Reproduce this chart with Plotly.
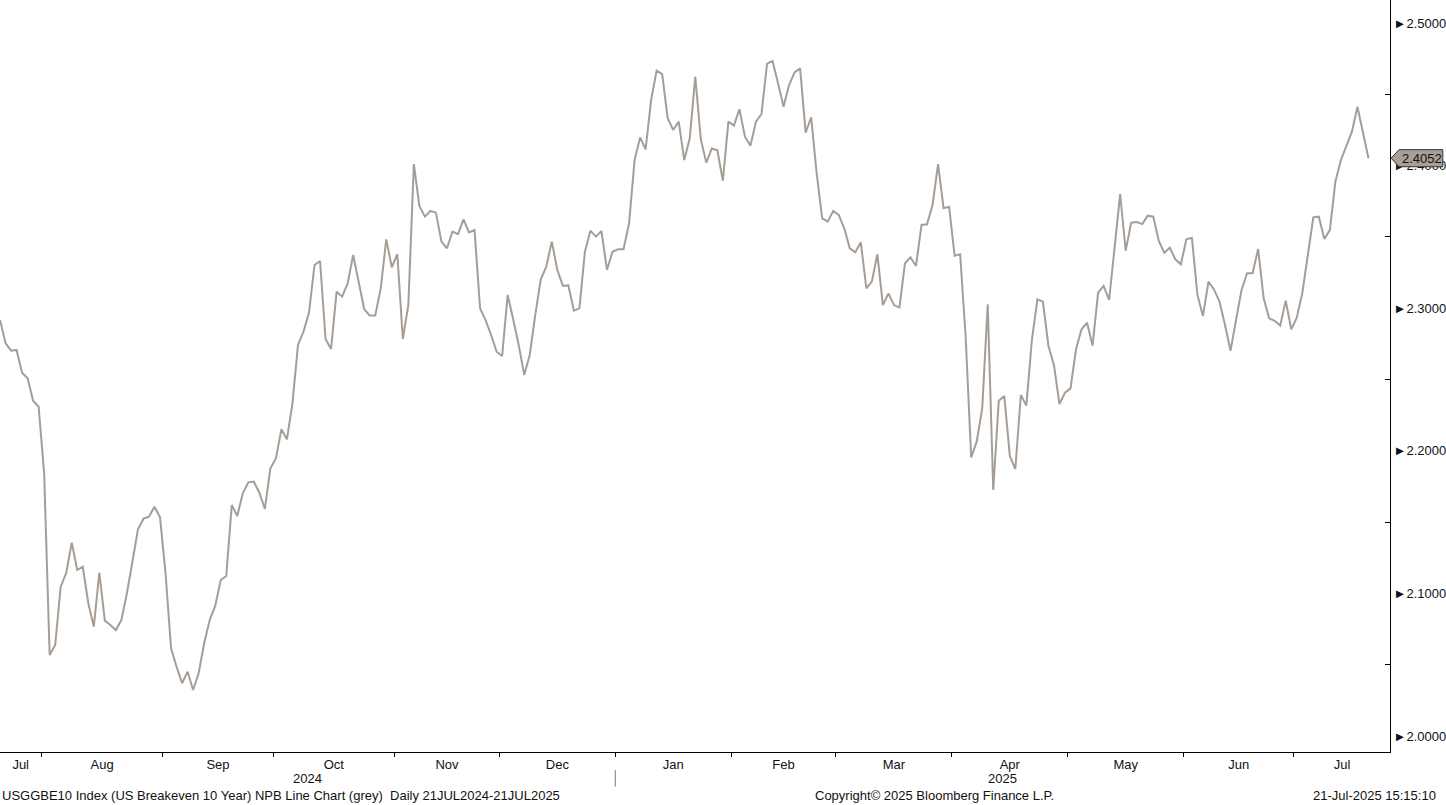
import plotly.graph_objects as go
import pandas as pd

# ---------------- data ----------------
holidays = ["2024-09-02", "2024-10-14", "2024-11-11", "2024-11-28", "2024-12-25",
            "2025-01-01", "2025-01-20", "2025-02-17", "2025-04-18", "2025-05-26",
            "2025-06-19", "2025-07-04"]

vals_jul_sep24 = [2.2917, 2.2756, 2.2702, 2.2707, 2.2548, 2.2508, 2.2351, 2.2309, 2.1844, 2.0568,
                  2.0638, 2.1047, 2.1143, 2.1356, 2.1164, 2.1187, 2.0931, 2.0767, 2.1145, 2.0809,
                  2.0778, 2.0743, 2.0813, 2.1001, 2.1222, 2.1449, 2.1524, 2.1538, 2.1608, 2.1534,
                  2.1141, 2.0615, 2.0486, 2.0370, 2.0451, 2.0323, 2.0440, 2.0650, 2.0813, 2.0912,
                  2.1094, 2.1122, 2.1620, 2.1543]
vals_sep_nov24 = [2.1702, 2.1779, 2.1784, 2.1706, 2.1592, 2.1877, 2.1947, 2.2151, 2.2081, 2.2333,
                  2.2742, 2.2835, 2.2969, 2.3303, 2.3331, 2.2782, 2.2714, 2.3116, 2.3081, 2.3174,
                  2.3373, 2.3186, 2.2994, 2.2948, 2.2948, 2.3139, 2.3483, 2.3287, 2.3380, 2.2784,
                  2.3022, 2.4011, 2.3717, 2.3642, 2.3682, 2.3670, 2.3467, 2.3420, 2.3537, 2.3520,
                  2.3623, 2.3532, 2.3548]
vals_nov24_jan25 = [2.2999, 2.2917, 2.2812, 2.2695, 2.2665, 2.3093, 2.2922, 2.2742, 2.2532, 2.2672,
                    2.2952, 2.3203, 2.3291, 2.3467, 2.3268, 2.3158, 2.3160, 2.2983, 2.2999, 2.3396,
                    2.3544, 2.3502, 2.3541, 2.3268, 2.3396, 2.3413, 2.3413, 2.3595, 2.4039, 2.4198,
                    2.4114, 2.4460, 2.4666, 2.4641, 2.4332, 2.4250, 2.4308, 2.4039, 2.4191, 2.4624,
                    2.4184, 2.4021, 2.4120, 2.4108]
vals_feb_mar25 = [2.3894, 2.4308, 2.4280, 2.4395, 2.4203, 2.4140, 2.4308, 2.4362, 2.4713, 2.4734,
                  2.4577, 2.4413, 2.4565, 2.4654, 2.4682, 2.4231, 2.4339, 2.3946, 2.3630, 2.3607,
                  2.3682, 2.3654, 2.3560, 2.3420, 2.3392, 2.3462, 2.3139, 2.3186, 2.3378, 2.3022,
                  2.3104, 2.3022, 2.3004, 2.3315, 2.3357, 2.3296, 2.3584, 2.3588, 2.3724, 2.4011,
                  2.3701, 2.3712, 2.3368, 2.3378]
vals_apr_may25 = [2.2800, 2.1954, 2.2064, 2.2298, 2.3027, 2.1725, 2.2351, 2.2384, 2.1964, 2.1872,
                  2.2391, 2.2317, 2.2777, 2.3062, 2.3046, 2.2735, 2.2602, 2.2328, 2.2408, 2.2438,
                  2.2712, 2.2852, 2.2898, 2.2737, 2.3109, 2.3156, 2.3058, 2.3431, 2.3801, 2.3403,
                  2.3600, 2.3604, 2.3590, 2.3649, 2.3642, 2.3471, 2.3389, 2.3424, 2.3343, 2.3308,
                  2.3483, 2.3494]
vals_jun_jul25 = [2.3093, 2.2945, 2.3186, 2.3132, 2.3046, 2.2882, 2.2702, 2.2917, 2.3128, 2.3245,
                  2.3245, 2.3415, 2.3069, 2.2929, 2.2912, 2.2878, 2.3053, 2.2852, 2.2934, 2.3104,
                  2.3385, 2.3637, 2.3642, 2.3485, 2.3548, 2.3887, 2.4039, 2.4137, 2.4238, 2.4413,
                  2.4226, 2.4052]

y_tick_vals = [2.0, 2.1, 2.2, 2.3, 2.4, 2.5]
y_minor_vals = [2.05, 2.15, 2.25, 2.35, 2.45]

title_left = "USGGBE10 Index (US Breakeven 10 Year) NPB Line Chart (grey)\u00a0\u00a0Daily 21JUL2024-21JUL2025"
title_mid = "Copyright\u00a9 2025 Bloomberg Finance L.P."
title_right = "21-Jul-2025 15:15:10"

# ---------------- build ----------------
values = (vals_jul_sep24 + vals_sep_nov24 + vals_nov24_jan25 +
          vals_feb_mar25 + vals_apr_may25 + vals_jun_jul25)
dates = [d for d in pd.bdate_range("2024-07-22", "2025-07-21")
         if d.strftime("%Y-%m-%d") not in holidays]
assert len(dates) == len(values), (len(dates), len(values))

n = len(values)
xs = list(range(n))
x_pad = 3.9
xmax = n - 1 + x_pad

# month ticks / labels
months = {}
for i, d in enumerate(dates):
    months.setdefault((d.year, d.month), []).append(i)
month_keys = list(months.keys())
tick_pos, label_pos, label_txt = [], [], []
years = {}
for (yr, mo), idx in months.items():
    f, l = idx[0], idx[-1]
    start = max(f - 0.5, 0)
    end = xmax if (yr, mo) == month_keys[-1] else min(l + 0.5, xmax)
    if f > 0:
        tick_pos.append(f - 0.5)
    label_pos.append((start + end) / 2)
    label_txt.append(pd.Timestamp(year=yr, month=mo, day=1).strftime("%b"))
    years.setdefault(yr, [start, end])
    years[yr][1] = end

fig = go.Figure()
fig.add_trace(go.Scatter(
    x=xs, y=values, mode="lines",
    line=dict(color="#a69e96", width=2),
    customdata=[d.strftime("%d %b %Y") for d in dates],
    hovertemplate="%{customdata}: %{y:.4f}<extra></extra>",
))

y_lo, y_hi = 1.98878, 2.51613
font_family = "Liberation Sans, Arial, sans-serif"
fs = 13

fig.update_layout(
    width=1446, height=805,
    margin=dict(l=0, r=52, t=0, b=53),
    paper_bgcolor="white", plot_bgcolor="white",
    showlegend=False,
    font=dict(family=font_family, size=fs, color="#111111"),
    xaxis=dict(
        range=[0, xmax], tickmode="array", tickvals=label_pos, ticktext=label_txt,
        ticks="", showline=True, linecolor="black", linewidth=1,
        showgrid=False, zeroline=False, tickfont=dict(size=fs, color="#111111"),
        minor=dict(tickmode="array", tickvals=tick_pos, ticks="outside",
                   ticklen=4, tickcolor="black", tickwidth=1, showgrid=False),
    ),
    yaxis=dict(
        side="right", range=[y_lo, y_hi], tickmode="array",
        tickvals=y_tick_vals, ticktext=["\u25ba" + f"{v:.4f}" for v in y_tick_vals],
        ticks="", showline=True, linecolor="black", linewidth=1,
        showgrid=False, zeroline=False, tickfont=dict(size=fs, color="#111111"),
        minor=dict(tickmode="array", tickvals=y_minor_vals, ticks="inside",
                   ticklen=5, tickcolor="black", tickwidth=1, showgrid=False),
    ),
)

annotations = []
for yr, (s, e) in years.items():
    annotations.append(dict(x=(s + e) / 2, y=-0.0346, xref="x", yref="paper",
                            text=str(yr), showarrow=False, xanchor="center",
                            yanchor="middle", font=dict(size=fs)))
annotations += [
    dict(x=0.0, y=-0.0585, xref="paper", yref="paper", text=title_left,
         showarrow=False, xanchor="left", yanchor="middle", font=dict(size=fs)),
    dict(x=0.672, y=-0.0585, xref="paper", yref="paper", text=title_mid,
         showarrow=False, xanchor="center", yanchor="middle", font=dict(size=fs)),
    dict(x=1.0344, y=-0.0585, xref="paper", yref="paper", text=title_right,
         showarrow=False, xanchor="right", yanchor="middle", font=dict(size=fs)),
]

# last value tag
last = values[-1]
h = 0.0060
x_tip, x_l, x_r = 1.0008, 1.0065, 1.0380
annotations.append(dict(x=(x_l + x_r) / 2 + 0.001, y=last, xref="paper", yref="y",
                        text=f"{last:.4f}", showarrow=False, xanchor="center",
                        yanchor="middle", font=dict(size=fs, color="#111111")))
fig.update_layout(annotations=annotations)

year_break = [i for i, d in enumerate(dates) if d.year == 2025][0] - 0.5
fig.add_shape(type="line", xref="x", yref="paper", x0=year_break, x1=year_break,
              y0=-0.024, y1=-0.046, line=dict(color="#777777", width=1))
fig.add_shape(type="path", xref="paper", yref="y",
              path=(f"M {x_tip} {last} L {x_l} {last + h} L {x_r} {last + h} "
                    f"L {x_r} {last - h} L {x_l} {last - h} Z"),
              fillcolor="#a8a097", line=dict(color="#333333", width=1), layer="above")

fig.write_html("out.html",
               config={"displayModeBar": False},
               post_script="document.body.style.margin='0';document.body.style.overflow='hidden';")
